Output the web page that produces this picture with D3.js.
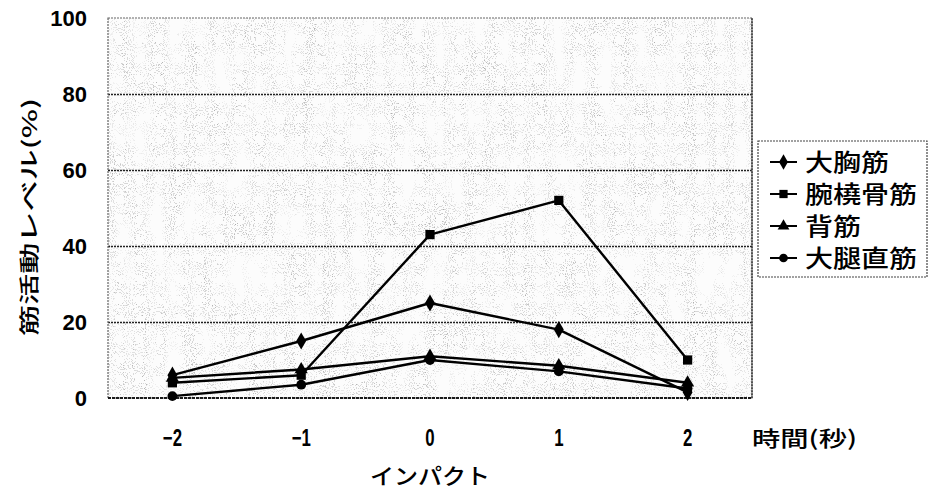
<!DOCTYPE html>
<html>
<head>
<meta charset="utf-8">
<script src="https://cdn.jsdelivr.net/npm/d3@7"></script>
<style>
  html, body { margin: 0; padding: 0; background: #fff; }
  svg { display: block; }
  text { fill: #000; }
</style>
</head>
<body>
<svg id="chart" width="929" height="493"></svg>
<script>
// Muscle activity level (%) at each second around impact
const timeLabels = ["-2", "-1", "0", "1", "2"];
const seriesNames = ["大胸筋", "腕橈骨筋", "背筋", "大腿直筋"];
const pectoralis = [6, 15, 25, 18, 1.5];
const brachioradialis = [4, 6, 43, 52, 10];
const back = [5.3, 7.5, 11, 8.5, 4];
const rectusFemoris = [0.5, 3.5, 10, 7, 2.5];
const yTicks = [0, 20, 40, 60, 80, 100];
const markerShapes = [d3.symbolDiamond, d3.symbolSquare, d3.symbolTriangle, d3.symbolCircle];
const markerSizes = [85, 85, 75, 75];

const series = [pectoralis, brachioradialis, back, rectusFemoris].map((values, i) => ({
  name: seriesNames[i],
  values,
  shape: markerShapes[i],
  size: markerSizes[i]
}));

const svg = d3.select("#chart");
const plot = { left: 108, top: 18, right: 752, bottom: 398 };
const jpFont = "'Noto Sans CJK JP', 'Noto Sans', sans-serif";
const numFont = "'Liberation Sans', Arial, sans-serif";

const x = d3.scaleBand().domain(timeLabels).range([plot.left, plot.right]);
const y = d3.scaleLinear().domain([0, 100]).range([plot.bottom, plot.top]);

// speckled halftone grey for the plot area
const defs = svg.append("defs");
const f = defs.append("filter").attr("id", "grain")
  .attr("x", 0).attr("y", 0).attr("width", "100%").attr("height", "100%")
  .attr("color-interpolation-filters", "sRGB");
// coarse mask: patchy, vertically streaked regions
f.append("feTurbulence").attr("type", "fractalNoise")
  .attr("baseFrequency", "0.06 0.02").attr("numOctaves", 2).attr("seed", 4).attr("result", "lf");
f.append("feColorMatrix").attr("in", "lf").attr("type", "matrix")
  .attr("values", "0 0 0 0 0  0 0 0 0 0  0 0 0 0 0  1 0 0 0 0").attr("result", "lfa");
f.append("feComponentTransfer").attr("in", "lfa").attr("result", "mask")
  .append("feFuncA").attr("type", "discrete").attr("tableValues", "0 0 0 0.25 0.45 0.65 0.8 0.9 1 1");
// light grey pixels
f.append("feTurbulence").attr("type", "fractalNoise")
  .attr("baseFrequency", 0.95).attr("numOctaves", 1).attr("seed", 8).attr("result", "hf1");
f.append("feColorMatrix").attr("in", "hf1").attr("type", "matrix")
  .attr("values", "0 0 0 0 0.82  0 0 0 0 0.82  0 0 0 0 0.82  1 0 0 0 0").attr("result", "hf1a");
f.append("feComponentTransfer").attr("in", "hf1a").attr("result", "light")
  .append("feFuncA").attr("type", "discrete").attr("tableValues", "0 0 0 0 0 0 1 1 1 1");
f.append("feComposite").attr("in", "light").attr("in2", "mask").attr("operator", "in").attr("result", "lightM");
// darker scattered pixels
f.append("feTurbulence").attr("type", "fractalNoise")
  .attr("baseFrequency", 1.1).attr("numOctaves", 1).attr("seed", 21).attr("result", "hf2");
f.append("feColorMatrix").attr("in", "hf2").attr("type", "matrix")
  .attr("values", "0 0 0 0 0.55  0 0 0 0 0.55  0 0 0 0 0.55  1 0 0 0 0").attr("result", "hf2a");
f.append("feComponentTransfer").attr("in", "hf2a").attr("result", "dark")
  .append("feFuncA").attr("type", "discrete").attr("tableValues", "0 0 0 0 0 0 0 0.6 0.6 0.6");
f.append("feComposite").attr("in", "dark").attr("in2", "mask").attr("operator", "in").attr("result", "darkM");
const merge = f.append("feMerge");
merge.append("feMergeNode").attr("in", "lightM");
merge.append("feMergeNode").attr("in", "darkM");

svg.append("rect")
  .attr("x", plot.left).attr("y", plot.top)
  .attr("width", plot.right - plot.left).attr("height", plot.bottom - plot.top)
  .attr("fill", "#fcfcfc");
svg.append("rect")
  .attr("x", plot.left).attr("y", plot.top)
  .attr("width", plot.right - plot.left).attr("height", plot.bottom - plot.top)
  .attr("fill", "#fff")
  .attr("filter", "url(#grain)");

// gridlines and y tick labels
const yAxis = d3.axisLeft(y).tickValues(yTicks).tickSize(-(plot.right - plot.left)).tickPadding(21);
const gy = svg.append("g").attr("transform", `translate(${plot.left},0)`).call(yAxis);
gy.select(".domain").remove();
gy.selectAll(".tick line")
  .attr("stroke", "#222").attr("stroke-width", 1.6).attr("stroke-dasharray", "2,1");
gy.selectAll(".tick").filter(d => d === 0 || d === 100).select("line").remove();
gy.selectAll(".tick text")
  .attr("font-family", numFont).attr("font-size", 22).attr("font-weight", "bold")
  .attr("dy", "0.36em");

// plot frame
svg.append("rect")
  .attr("x", plot.left).attr("y", plot.top)
  .attr("width", plot.right - plot.left).attr("height", plot.bottom - plot.top)
  .attr("fill", "none").attr("stroke", "#666").attr("stroke-width", 1.2)
  .attr("stroke-dasharray", "2,1");
svg.append("line")
  .attr("x1", plot.left).attr("x2", plot.right)
  .attr("y1", plot.bottom).attr("y2", plot.bottom)
  .attr("stroke", "#1a1a1a").attr("stroke-width", 1.8).attr("stroke-dasharray", "3,1");
svg.append("line")
  .attr("x1", plot.right).attr("x2", plot.right)
  .attr("y1", plot.top).attr("y2", plot.bottom)
  .attr("stroke", "#333").attr("stroke-width", 1.4).attr("stroke-dasharray", "2,1");

// x tick labels (narrow digits)
const xAxis = d3.axisBottom(x).tickSize(0).tickPadding(0);
const gx = svg.append("g").attr("transform", `translate(0,${plot.bottom})`).call(xAxis);
gx.select(".domain").remove();
gx.selectAll(".tick text")
  .attr("font-family", numFont).attr("font-size", 24).attr("font-weight", "bold")
  .attr("y", 0).attr("dy", 0)
  .attr("transform", "translate(0,48) scale(0.7,1)")
  .text(d => d.replace("-", "−"));

// lines and markers
const line = d3.line()
  .x((d, i) => x(timeLabels[i]) + x.bandwidth() / 2)
  .y(d => y(d));

const g = svg.append("g");
series.forEach(s => {
  g.append("path")
    .attr("d", line(s.values))
    .attr("fill", "none").attr("stroke", "#000").attr("stroke-width", 2.4)
    .attr("stroke-linejoin", "round");
});
series.forEach(s => {
  g.selectAll(null).data(s.values).enter().append("path")
    .attr("d", d3.symbol().type(s.shape).size(s.size))
    .attr("transform", (d, i) => `translate(${x(timeLabels[i]) + x.bandwidth() / 2},${y(d)})`)
    .attr("fill", "#000");
});

// axis titles (wide lettering)
svg.append("text")
  .attr("transform", `translate(37,217) rotate(-90)`)
  .attr("text-anchor", "middle")
  .attr("font-family", jpFont).attr("font-size", 20).attr("font-weight", 500)
  .attr("textLength", 238).attr("lengthAdjust", "spacingAndGlyphs")
  .text("筋活動レベル(%)");
svg.append("text")
  .attr("x", 752).attr("y", 446)
  .attr("font-family", jpFont).attr("font-size", 21).attr("font-weight", 500)
  .attr("textLength", 105).attr("lengthAdjust", "spacingAndGlyphs")
  .text("時間(秒)");
svg.append("text")
  .attr("x", x("0") + x.bandwidth() / 2).attr("y", 484)
  .attr("text-anchor", "middle")
  .attr("font-family", jpFont).attr("font-size", 22).attr("font-weight", 500)
  .attr("textLength", 120).attr("lengthAdjust", "spacingAndGlyphs")
  .text("インパクト");

// legend
const legend = svg.append("g");
legend.append("rect")
  .attr("x", 758).attr("y", 141).attr("width", 169).attr("height", 136)
  .attr("fill", "#fff").attr("stroke", "#444").attr("stroke-width", 1.2)
  .attr("stroke-dasharray", "2,1");
const rowY = d3.scalePoint().domain(seriesNames).range([162, 258]);
series.forEach(s => {
  const yy = rowY(s.name);
  legend.append("line")
    .attr("x1", 770).attr("x2", 797).attr("y1", yy).attr("y2", yy)
    .attr("stroke", "#000").attr("stroke-width", 2);
  legend.append("path")
    .attr("d", d3.symbol().type(s.shape).size(s.size * 0.8)())
    .attr("transform", `translate(783.5,${yy})`)
    .attr("fill", "#000");
  legend.append("text")
    .attr("x", 805).attr("y", yy).attr("dy", "0.38em")
    .attr("font-family", jpFont).attr("font-size", 24).attr("font-weight", 500)
    .attr("textLength", s.name.length * 28).attr("lengthAdjust", "spacingAndGlyphs")
    .text(s.name);
});
</script>
</body>
</html>
